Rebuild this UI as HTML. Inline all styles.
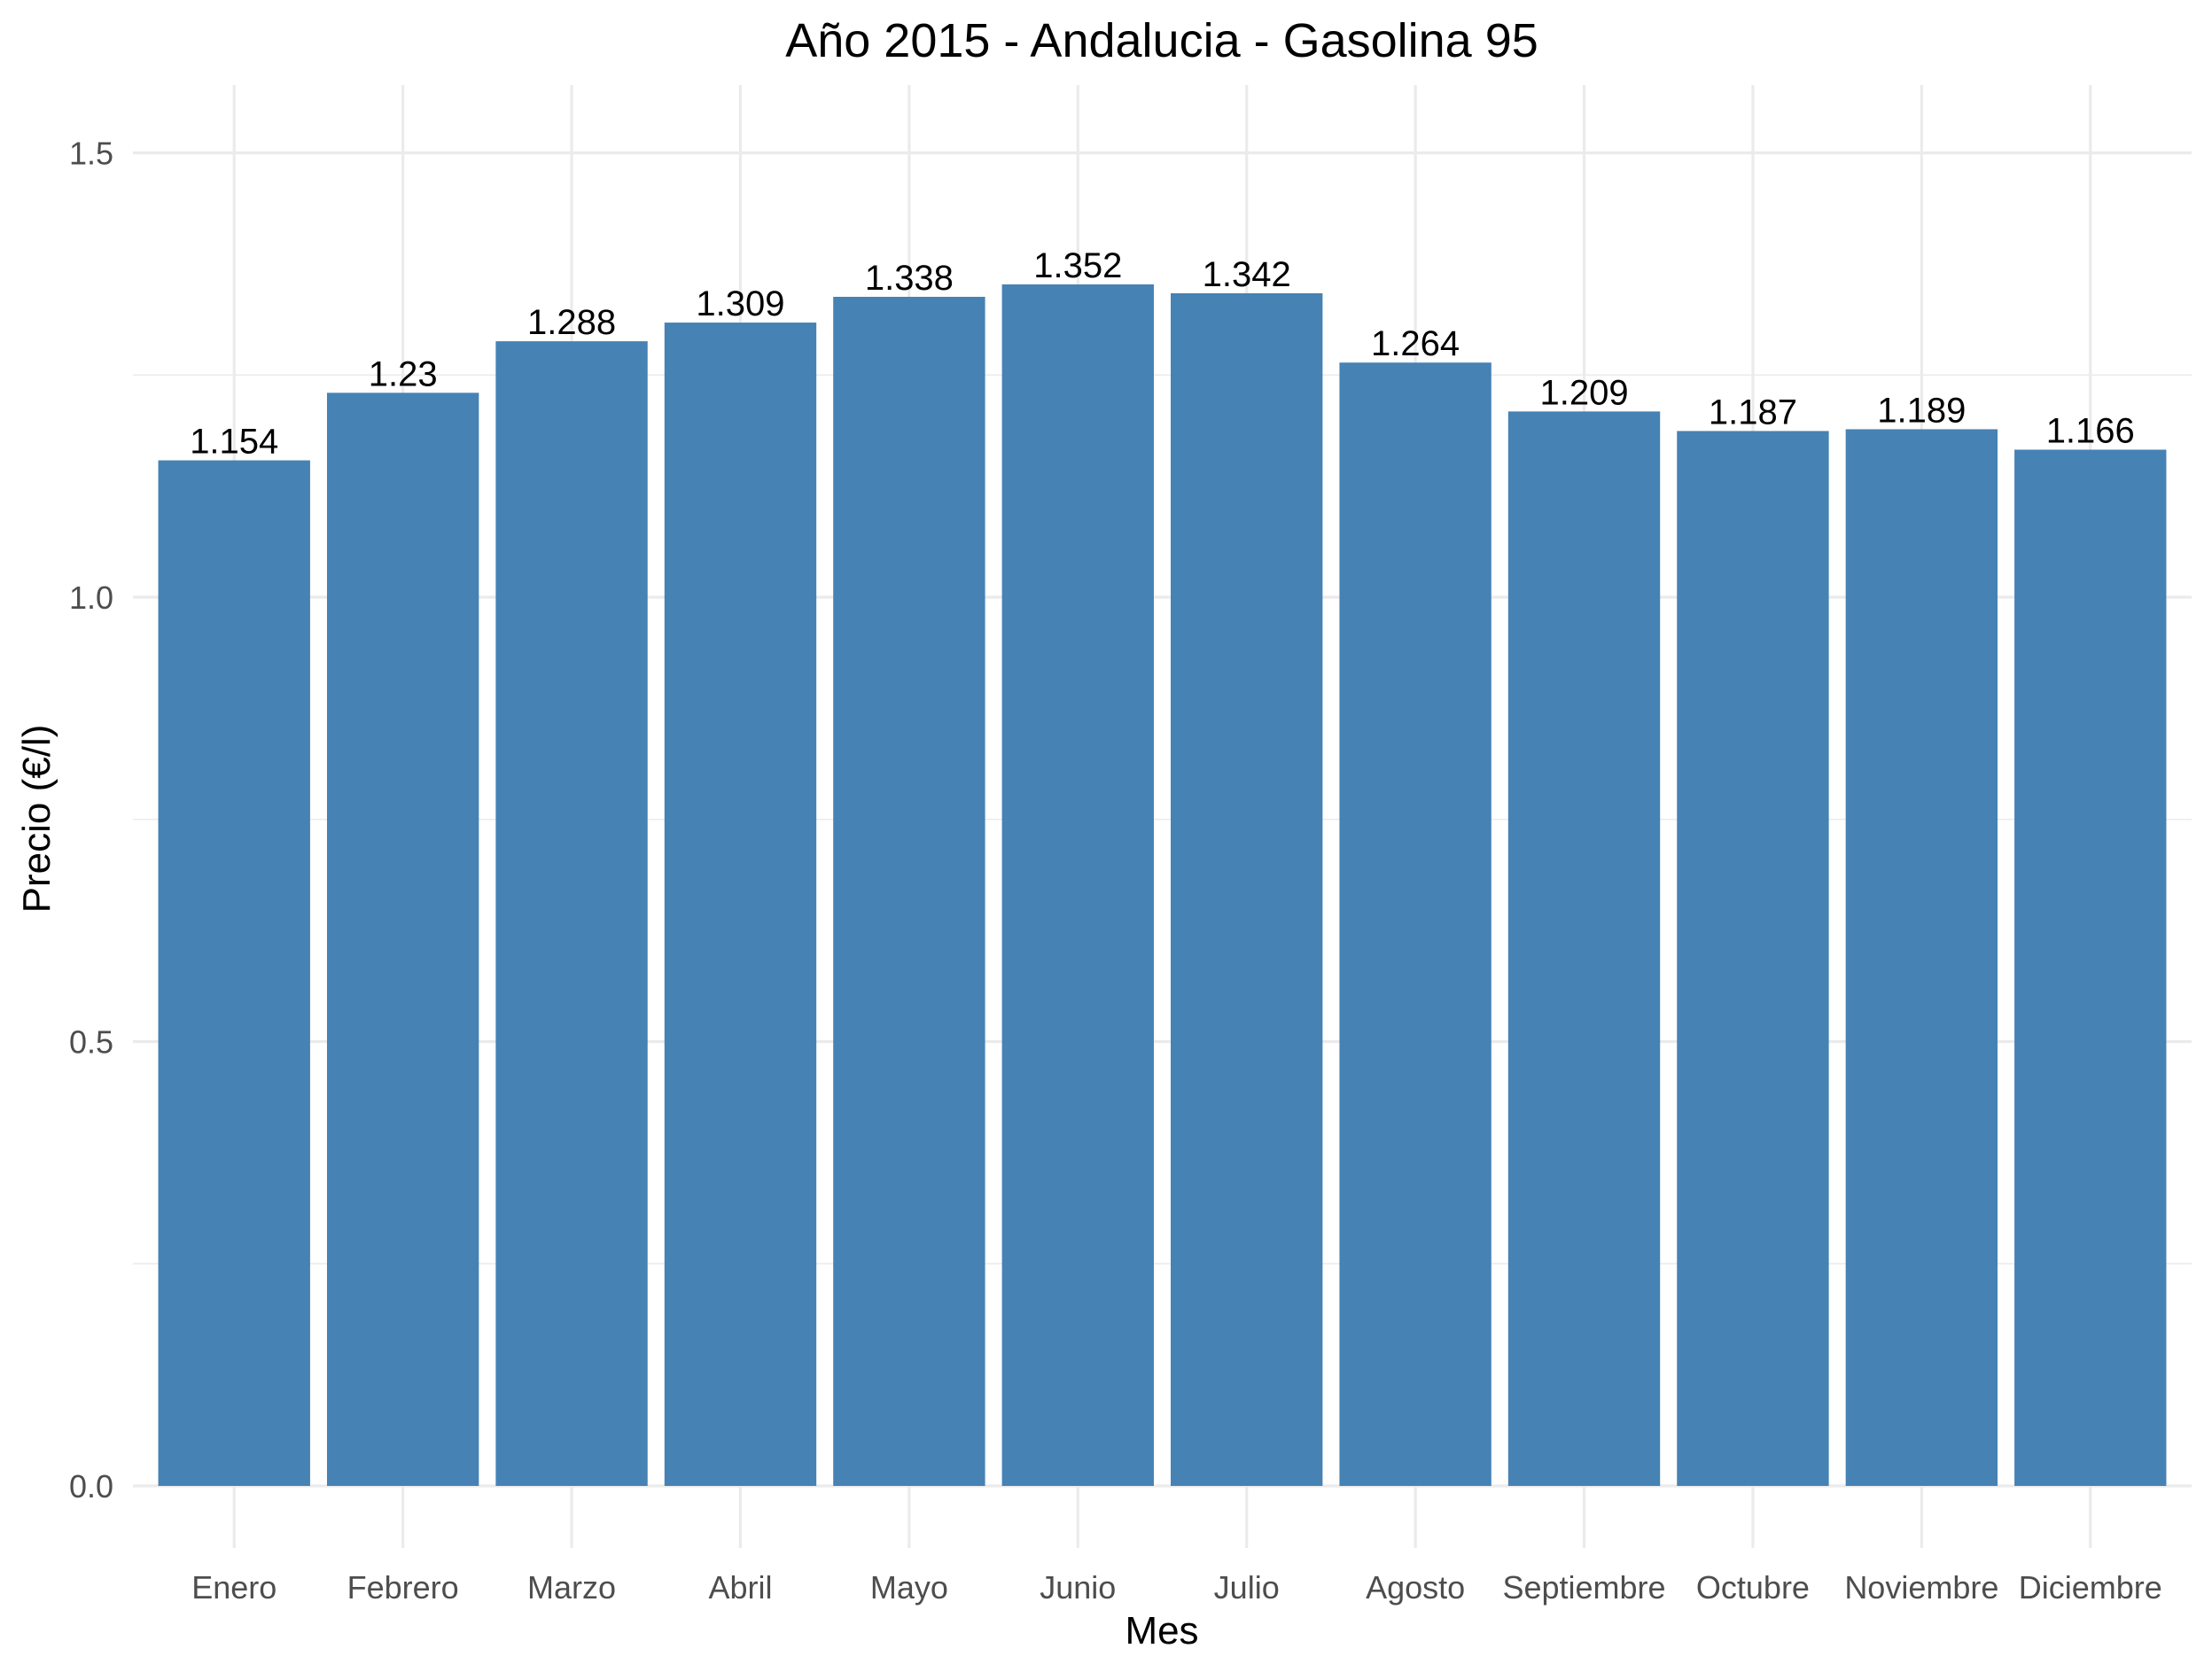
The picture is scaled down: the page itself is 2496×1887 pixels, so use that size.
<!DOCTYPE html>
<html><head><meta charset="utf-8"><style>
html,body{margin:0;padding:0;background:#fff;}
svg{display:block;font-family:"Liberation Sans",Arial,sans-serif;}
</style></head><body>
<svg id="chart" width="2496" height="1887" viewBox="0 0 2496 1887" xmlns="http://www.w3.org/2000/svg">
<rect width="2496" height="1887" fill="#fff"/>
<g id="grid"></g>
<g id="bars"></g>
<g id="labels"></g>
<g id="xticks"></g>
<g id="yticks"></g>
<text x="1311" y="64" font-size="54" text-anchor="middle" fill="#000">Año 2015 - Andalucia - Gasolina 95</text>
<text x="1311" y="1855" font-size="44" text-anchor="middle" fill="#000">Mes</text>
<text x="0" y="0" font-size="44" text-anchor="middle" fill="#000" transform="translate(56,924) rotate(-90)">Precio (€/l)</text>
</svg>
<script>
const months = ["Enero","Febrero","Marzo","Abril","Mayo","Junio","Julio","Agosto","Septiembre","Octubre","Noviembre","Diciembre"];
const prices = [1.154,1.23,1.288,1.309,1.338,1.352,1.342,1.264,1.209,1.187,1.189,1.166];
const priceLabels = ["1.154","1.23","1.288","1.309","1.338","1.352","1.342","1.264","1.209","1.187","1.189","1.166"];
const yTicks = [0,0.5,1.0,1.5];
const yTickLabels = ["0.0","0.5","1.0","1.5"];
const yMinor = [0.25,0.75,1.25];

const NS="http://www.w3.org/2000/svg";
const panelL=150, panelR=2473, panelT=96, panelB=1747;
const y0=1677, yPerUnit=1003;
const yScale=v=>y0-v*yPerUnit;
const step=(panelR-panelL)/(months.length+0.2);
const xScale=i=>panelL+(0.6+i)*step;
const bw=step*0.9;
function mk(tag,attrs,parent){const e=document.createElementNS(NS,tag);for(const k in attrs)e.setAttribute(k,attrs[k]);parent.appendChild(e);return e;}
const grid=document.getElementById('grid');
yMinor.forEach(v=>{
  const l=mk('line',{x1:panelL,x2:panelR,y1:yScale(v),y2:yScale(v),stroke:'#ebebeb','stroke-width':1.6},grid);
  
  
});
yTicks.forEach((v,i)=>{
  const l=mk('line',{x1:panelL,x2:panelR,y1:yScale(v),y2:yScale(v),stroke:'#ebebeb','stroke-width':3.2},grid);
  
  
  const t=mk('text',{x:128,y:yScale(v)+13,'font-size':36,'text-anchor':'end',fill:'#4d4d4d'},document.getElementById('yticks'));
  t.textContent=yTickLabels[i];
  
  
});
months.forEach((m,i)=>{
  const x=xScale(i);
  const l=mk('line',{x1:x,x2:x,y1:panelT,y2:panelB,stroke:'#ebebeb','stroke-width':3.2},grid);
  
  
  const r=mk('rect',{x:x-bw/2,y:yScale(prices[i]),width:bw,height:y0-yScale(prices[i]),fill:'#4682b4'},document.getElementById('bars'));
  
  
  const t=mk('text',{x:x,y:yScale(prices[i])-8,'font-size':40,'text-anchor':'middle',fill:'#000'},document.getElementById('labels'));
  t.textContent=priceLabels[i];
  
  
  const xt=mk('text',{x:x,y:1804,'font-size':36,'text-anchor':'middle',fill:'#4d4d4d'},document.getElementById('xticks'));
  xt.textContent=m;
  
  
});
</script>
</body></html>
